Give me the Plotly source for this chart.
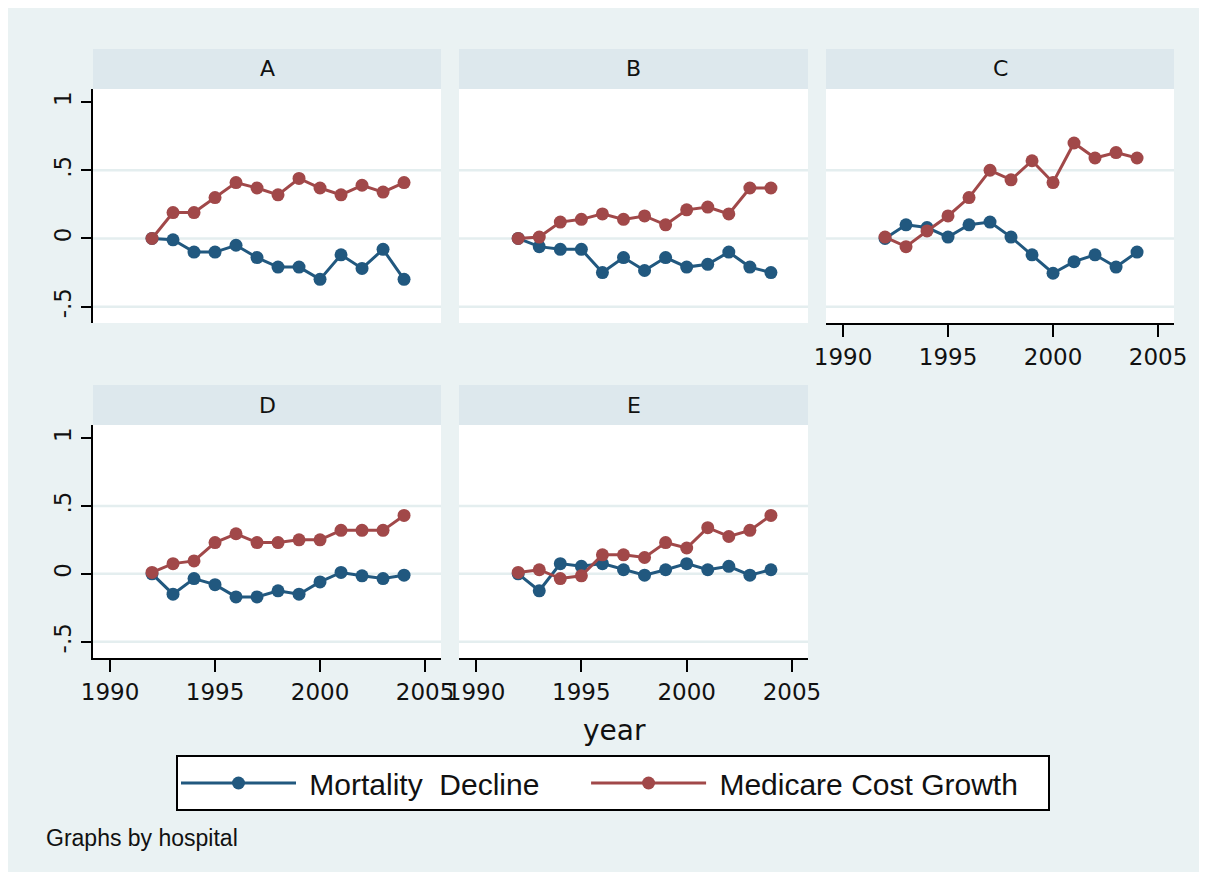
import plotly.graph_objects as go

years = list(range(1992, 2005))
panels = ["A", "B", "C", "D", "E"]

mort_A = [0, -0.01, -0.10, -0.10, -0.05, -0.14, -0.21, -0.21, -0.30, -0.12, -0.22, -0.08, -0.30]
cost_A = [0, 0.19, 0.19, 0.30, 0.41, 0.37, 0.32, 0.44, 0.37, 0.32, 0.39, 0.34, 0.41]
mort_B = [0, -0.06, -0.08, -0.08, -0.25, -0.14, -0.235, -0.14, -0.21, -0.19, -0.10, -0.21, -0.25]
cost_B = [0, 0.01, 0.12, 0.14, 0.18, 0.14, 0.165, 0.10, 0.21, 0.23, 0.18, 0.37, 0.37]
mort_C = [0, 0.10, 0.08, 0.01, 0.10, 0.12, 0.01, -0.12, -0.255, -0.17, -0.12, -0.21, -0.10]
cost_C = [0.01, -0.06, 0.055, 0.165, 0.30, 0.50, 0.43, 0.57, 0.41, 0.70, 0.59, 0.63, 0.59]
mort_D = [0, -0.15, -0.035, -0.08, -0.17, -0.17, -0.125, -0.15, -0.06, 0.01, -0.015, -0.035, -0.01]
cost_D = [0.01, 0.075, 0.095, 0.23, 0.295, 0.23, 0.23, 0.25, 0.25, 0.32, 0.32, 0.32, 0.43]
mort_E = [0, -0.125, 0.075, 0.055, 0.075, 0.03, -0.01, 0.03, 0.075, 0.03, 0.055, -0.01, 0.03]
cost_E = [0.01, 0.03, -0.035, -0.015, 0.14, 0.14, 0.12, 0.23, 0.19, 0.34, 0.275, 0.32, 0.43]

mortality = [mort_A, mort_B, mort_C, mort_D, mort_E]
cost = [cost_A, cost_B, cost_C, cost_D, cost_E]

x_ticks = [1990, 1995, 2000, 2005]
y_ticks = [-0.5, 0, 0.5, 1]
y_ticktext = ["-.5", "0", ".5", "1"]
grid_vals = [-0.5, 0, 0.5]

NB = "\u00a0"
name_mort = NB + "Mortality" + NB + " Decline" + NB * 5
name_cost = NB + "Medicare Cost Growth" + NB * 3

W, H = 1207, 880
BLUE = "#21587F"
RED = "#A14849"
BG = "#EAF2F3"
STRIP = "#DDE8ED"
GRID = "#E4EEEF"

def fx(px):
    return px / W

def fy(py):
    return 1 - py / H

cols = [(93, 441), (459, 808), (826, 1174)]
rows = [(49, 89, 323), (385, 425, 658)]
pos = [(0, 0), (0, 1), (0, 2), (1, 0), (1, 1)]
show_y = [True, False, False, True, False]
show_x = [False, False, True, True, True]

fig = go.Figure()
layout = {}
shapes = []
annotations = []

for i, name in enumerate(panels):
    r, c = pos[i]
    x0, x1 = cols[c]
    s0, p0, p1 = rows[r]
    k = "" if i == 0 else str(i + 1)
    xa, ya = "x" + k, "y" + k
    fig.add_trace(go.Scatter(
        x=years, y=mortality[i], xaxis=xa, yaxis=ya, mode="lines+markers",
        name=name_mort, legendgroup="m", showlegend=(i == 0),
        line=dict(color=BLUE, width=3), marker=dict(color=BLUE, size=13)))
    fig.add_trace(go.Scatter(
        x=years, y=cost[i], xaxis=xa, yaxis=ya, mode="lines+markers",
        name=name_cost, legendgroup="c", showlegend=(i == 0),
        line=dict(color=RED, width=3), marker=dict(color=RED, size=13)))
    layout["xaxis" + k] = dict(
        domain=[fx(x0), fx(x1)], range=[1989.19, 2005.76], anchor=ya, automargin=False,
        showgrid=False, zeroline=False, tickvals=x_ticks,
        showline=show_x[i], linecolor="black", linewidth=2,
        ticks="outside" if show_x[i] else "", ticklen=12, tickwidth=2, tickcolor="black",
        showticklabels=show_x[i], ticklabelstandoff=0,
        tickfont=dict(family="DejaVu Sans", size=23, color="#111111"))
    layout["yaxis" + k] = dict(
        domain=[fy(p1), fy(p0)], range=[-0.62, 1.096], anchor=xa, automargin=False,
        showgrid=False, zeroline=False, tickvals=y_ticks, ticktext=y_ticktext,
        tickangle=-90,
        showline=show_y[i], linecolor="black", linewidth=2,
        ticks="outside" if show_y[i] else "", ticklen=10, tickwidth=2, tickcolor="black",
        showticklabels=show_y[i], ticklabelstandoff=1,
        tickfont=dict(family="DejaVu Sans", size=23, color="#111111"))
    for gv in grid_vals:
        shapes.append(dict(type="line", xref=xa + " domain", yref=ya, x0=0, x1=1,
                           y0=gv, y1=gv, line=dict(color=GRID, width=2.5), layer="below"))
    shapes.append(dict(type="rect", xref="paper", yref="paper",
                       x0=fx(x0), x1=fx(x1), y0=fy(p0), y1=fy(s0),
                       fillcolor=STRIP, line=dict(width=0), layer="below"))
    annotations.append(dict(text=name, xref="paper", yref="paper",
                            x=fx((x0 + x1) / 2), y=fy((s0 + p0) / 2),
                            xanchor="center", yanchor="middle", showarrow=False,
                            font=dict(family="DejaVu Sans", size=22, color="#111111")))

# white page border
shapes.append(dict(type="rect", xref="paper", yref="paper", x0=0, x1=1, y0=0, y1=1,
                   line=dict(color="white", width=16), fillcolor="rgba(0,0,0,0)", layer="above"))

annotations.append(dict(text="year", xref="paper", yref="paper", x=fx(614), y=fy(730),
                        xanchor="center", yanchor="middle", showarrow=False,
                        font=dict(family="DejaVu Sans", size=28, color="#111111")))
annotations.append(dict(text="Graphs by hospital", xref="paper", yref="paper", x=fx(44), y=fy(838),
                        xanchor="left", yanchor="middle", showarrow=False,
                        font=dict(family="Liberation Sans", size=23, color="#111111")))

fig.update_layout(
    width=W, height=H, margin=dict(l=0, r=0, t=0, b=0, autoexpand=False),
    paper_bgcolor=BG, plot_bgcolor="white",
    shapes=shapes, annotations=annotations,
    legend=dict(orientation="h", x=fx(613), xanchor="center", y=fy(783), yanchor="middle",
                bgcolor="white", bordercolor="black", borderwidth=2,
                itemwidth=115, entrywidth=0,
                font=dict(family="Liberation Sans", size=30, color="#111111")),
    **layout)

fig.write_html("out.html", config={"displayModeBar": False},
               post_script="document.body.style.margin='0';document.body.style.overflow='hidden';")
